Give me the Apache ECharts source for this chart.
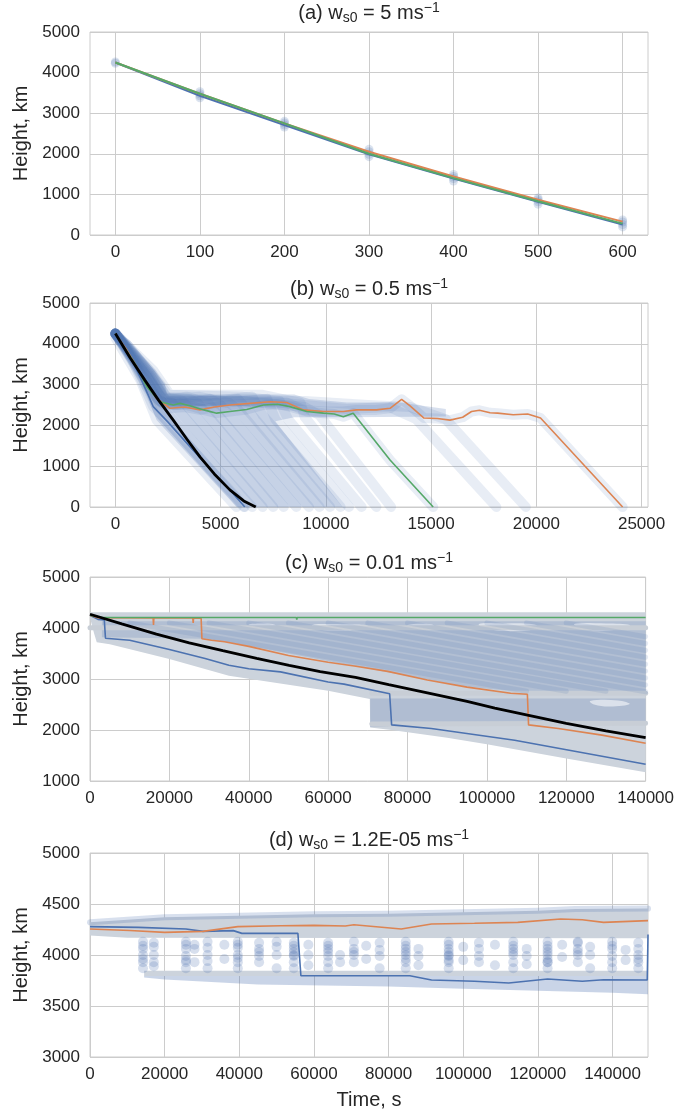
<!DOCTYPE html>
<html>
<head>
<meta charset="utf-8">
<script src="https://cdn.jsdelivr.net/npm/echarts@6/dist/echarts.min.js"></script>
<style>
html, body { margin: 0; padding: 0; background: #fff; }
#chart { width: 677px; height: 1114px; }
</style>
</head>
<body>
<div id="chart"></div>
<script>
// ---- panel (a) ----
var aTicksX = [0, 100, 200, 300, 400, 500, 600];
var aTimes = [0, 100, 200, 300, 400, 500, 600];
var aBlue = [4250, 3430, 2710, 1990, 1390, 820, 260];
var aOrange = [4250, 3480, 2750, 2050, 1440, 870, 330];
var aGreen = [4250, 3480, 2750, 2000, 1400, 830, 280];
var aDots = [[0,4230],[0,4260],[100,3380],[100,3430],[100,3480],[100,3530],
  [200,2660],[200,2710],[200,2760],[200,2800],[300,1930],[300,1990],[300,2050],[300,2110],
  [400,1330],[400,1390],[400,1440],[400,1490],[500,760],[500,820],[500,870],[500,910],
  [600,200],[600,260],[600,320],[600,370]];

// ---- panel (b) ----
var bTicksX = [0, 5000, 10000, 15000, 20000, 25000];
var bBlack = [[0,4250],[700,3660],[1400,3110],[2050,2620],[2750,2130],[3400,1660],[4020,1230],
  [4700,810],[5440,420],[6100,150],[6670,0]];
var bBlue = [[0,4250],[400,3950],[800,3600],[1300,3050],[1800,2460],[2500,2080],[3540,1480],[4500,930],[5500,380],[6150,0]];
var bGreen = [[0,4250],[500,3850],[1000,3450],[1490,2950],[2120,2580],[2750,2500],[3070,2540],[3540,2480],
  [4200,2380],[4810,2300],[5440,2340],[6240,2390],[7030,2500],[7700,2520],[8290,2460],[9090,2340],
  [9880,2300],[10400,2280],[10830,2210],[11300,2300],[13050,1150],[15100,0]];
var bOrange = [[0,4250],[500,3880],[1000,3450],[1500,3000],[1960,2660],[2590,2420],[3300,2450],[4020,2380],
  [4700,2450],[5440,2500],[6400,2540],[7350,2580],[8140,2560],[8930,2380],[9880,2340],[10830,2340],
  [11460,2380],[12400,2380],[13050,2420],[13600,2640],[14000,2480],[14660,2180],[15300,2170],[15900,2130],
  [16500,2200],[16920,2340],[17300,2370],[17800,2310],[18160,2300],[18900,2260],[19590,2280],[20200,2180],[24100,0]];
var bCloudRing = [[0,4300],[700,4080],[2350,3030],[2450,2760],[8500,2760],[9200,2650],[11000,2560],
  [13500,2560],[15700,2400],[15700,2220],[11000,2200],[8500,2200],[7600,2100],[10800,0],[5760,0],
  [1960,2130],[1200,3100],[0,4150]];
var bTracks = [
  [[0,4150],[1200,3100],[1960,2130],[5760,0]],
  [[0,4250],[1300,3150],[2100,2300],[6100,0]],
  [[0,4250],[1400,3200],[2200,2450],[6500,0]],
  [[0,4250],[1500,3250],[2300,2600],[2700,2550],[7000,0]],
  [[0,4250],[1600,3300],[2300,2700],[3200,2600],[7500,0]],
  [[0,4250],[1700,3300],[2400,2700],[3500,2650],[3900,2550],[8000,0]],
  [[0,4250],[1500,3200],[2200,2650],[3400,2700],[4400,2550],[8600,0]],
  [[0,4250],[1400,3150],[2100,2600],[3000,2500],[4500,2650],[5000,2500],[9200,0]],
  [[0,4250],[1600,3250],[2300,2650],[4000,2700],[5400,2550],[5800,2400],[9700,0]],
  [[0,4250],[1700,3250],[2400,2600],[4200,2500],[5800,2650],[6400,2300],[10200,0]],
  [[0,4250],[1500,3200],[2200,2550],[4500,2600],[6500,2700],[7000,2250],[10700,0]],
  [[0,4250],[1600,3200],[2300,2500],[5000,2550],[7200,2650],[7600,2150],[11100,0]],
  [[0,4250],[1700,3300],[2500,2750],[6000,2700],[7800,2600],[8200,2150],[11700,0]],
  [[0,4250],[1800,3350],[2600,2750],[7000,2750],[8800,2550],[9000,2200],[12400,0]],
  [[0,4250],[1600,3250],[2400,2600],[6000,2600],[9000,2450],[9700,2250],[13100,0]],
  [[0,4250],[1700,3250],[2500,2650],[8000,2550],[11000,2400],[13000,2450],[14300,2150],[18100,0]],
  [[0,4250],[1500,3200],[2300,2600],[9000,2600],[12000,2500],[14000,2450],[15700,2150],[19500,0]]
];

// ---- panel (c) ----
var cTicksX = [0, 20000, 40000, 60000, 80000, 100000, 120000, 140000];
var cBlack = [[0,4270],[8000,4080],[16730,3880],[25000,3710],[33450,3555],[42000,3405],[50180,3265],
  [58000,3145],[66900,3030],[75260,2890],[85000,2730],[95000,2560],[102000,2430],[110250,2290],
  [120000,2130],[130000,1985],[140000,1850]];
var cBlue = [[0,4250],[2000,4170],[3600,4160],[3900,3800],[10000,3760],[20000,3580],[29000,3400],
  [35000,3270],[40000,3200],[48000,3140],[60000,2940],[64000,2900],[75500,2710],[76000,2100],
  [86000,2030],[107000,1800],[140000,1330]];
var cOrange = [[0,4250],[2000,4200],[15900,4195],[16000,4060],[16100,4195],[25900,4195],[26000,4100],
  [26100,4195],[28000,4190],[28200,3790],[30600,3760],[33900,3730],[40000,3640],[50000,3460],
  [60000,3330],[67000,3250],[75000,3150],[85000,2980],[95000,2840],[106000,2720],[110200,2700],
  [110500,2100],[118000,2030],[129000,1900],[140000,1740]];
var cGreen = [[0,4250],[3000,4205],[4900,4205],[5000,4170],[5100,4205],[24200,4205],[24300,4170],
  [24400,4205],[52000,4205],[52100,4165],[52200,4205],[62000,4205],[62100,4170],[62200,4205],
  [68000,4205],[68100,4170],[68200,4205],[140000,4205]];
var cEnvTop = [[0,4310],[140000,4310]];
var cEnvBottom = [[0,4200],[1000,3900],[1700,3720],[5000,3680],[20000,3390],[35000,3065],[60000,2772],
  [70500,2609],[70600,2050],[76000,2000],[90000,1850],[100000,1720],[120000,1440],[140000,1170]];
var cDotTop = [[3000,4130],[140000,4130]];
var cDotBottom = [[3000,3820],[28000,3790],[35000,3720],[50000,3500],[65000,3280],[80000,3060],
  [95000,2850],[107000,2760],[140000,2760]];
var cLowDotTop = [[70600,2620],[140000,2620]];
var cLowDotBottom = [[70600,2060],[76000,2080],[140000,2150]];
var cGaps = [
  [[56000,4060],[60000,4080],[66000,4070],[70000,4050],[68000,3980],[62000,3950],[57000,3980]],
  [[98000,4080],[104000,4090],[112000,4070],[113000,4000],[108000,3940],[100000,3980]],
  [[122000,4080],[130000,4090],[136000,4060],[134000,3980],[126000,3960]],
  [[40000,4070],[46000,4080],[47000,4030],[43000,4010]],
  [[80000,4060],[86000,4075],[87000,4010],[82000,3995]],
  [[126000,2570],[133000,2580],[136000,2510],[131000,2460],[127000,2500]]
];
var cStreaks = [
  [[10000,4100],[110000,2760]], [[20000,4100],[120000,2760]], [[30000,4100],[130000,2760]],
  [[40000,4100],[140000,2750]], [[50000,4100],[140000,2885]], [[60000,4100],[140000,3020]],
  [[70000,4100],[140000,3155]], [[80000,4100],[140000,3290]], [[90000,4100],[140000,3425]],
  [[100000,4100],[140000,3560]], [[110000,4100],[140000,3695]], [[120000,4100],[140000,3830]]
];
var cGrayLines = [ [[0,4005],[140000,4005]], [[71000,2720],[140000,2720]], [[71000,2120],[140000,2130]] ];

// ---- panel (d) ----
var dTicksX = [0, 20000, 40000, 60000, 80000, 100000, 120000, 140000];
var dOrange = [[0,4255],[10700,4240],[20000,4222],[30300,4232],[39600,4278],[51100,4287],[60000,4290],
  [68400,4285],[70700,4297],[83400,4255],[91500,4304],[103000,4311],[114600,4320],[126100,4353],
  [131900,4346],[137600,4320],[149500,4337]];
var dBlue = [[0,4278],[13000,4271],[25700,4255],[30300,4232],[38400,4239],[40700,4212],[55700,4212],
  [56500,3797],[68400,3797],[85700,3797],[91500,3755],[103000,3742],[112200,3725],[122600,3765],
  [131900,3742],[137600,3758],[149300,3755],[149500,4200]];
var dUpperTop = [[0,4320],[20000,4370],[40000,4385],[60000,4400],[80000,4405],[100000,4420],
  [120000,4435],[130000,4450],[149500,4455]];
var dUpperBottom = [[0,4190],[10000,4170],[149500,4165]];
var dLowerTop = [[14500,3845],[149500,3845]];
var dLowerMid = [[14500,3795],[149500,3795]];
var dLowerBottom = [[14500,3780],[20000,3760],[45000,3710],[80000,3690],[100000,3670],[120000,3650],
  [140000,3630],[149500,3615]];
var dStreaks = [
  [14200,[4130,4090,4060,4000,3960,3930,3870]], [17100,[4120,4080,4000,3930,3890]],
  [25700,[4130,4100,4060,3990,3950,3930,3870]], [28000,[4100,4060,3930]],
  [31500,[4130,4070,4000,3940,3870]], [36000,[4100,3960]],
  [39600,[4130,4100,4070,4000,3970,3930,3870]], [45300,[4120,4060,4030,3990,3930]],
  [50000,[4130,4080,4000,3870]], [54600,[4120,4090,4060,4030,4000,3990,3930,3870]],
  [58500,[4100,4000,3900]], [63800,[4120,4090,4060,4030,3990,3930,3870]], [67000,[4000,3930]],
  [70700,[4130,4060,4030,4000,3930]], [74000,[4090,3960]], [77600,[4120,4050,3990,3870]],
  [84600,[4130,4090,4060,4030,4000,3960,3930,3870]], [88000,[4060,3990,3900]],
  [96100,[4130,4100,4060,4030,4000,3990,3950,3930,3870]], [100000,[4080,3950]],
  [104200,[4120,4060,3990,3930]], [108500,[4100,3900]],
  [113400,[4130,4090,4060,4030,4000,3930,3870]], [117000,[4060,3990,3910]],
  [122600,[4130,4090,4060,4030,4000,3960,3930,3930,3870]], [126500,[4100,3980]],
  [130700,[4130,4120,4060,4030,4000,3930]], [134000,[4080,4000,3870]],
  [139900,[4130,4090,4060,3990,3930,3870]], [143500,[4050,3950]], [146900,[4120,4060,4000,3960,3930,3870]]
];

var FONT = '"Liberation Sans", Arial, sans-serif';
var TXT = '#262626';
var C_BLUE = '#4c72b0', C_ORANGE = '#dd8452', C_GREEN = '#55a868';
var GRAY = '#ccd3dc';
var HALO = 'rgba(76,114,176,0.13)';

var tops = [32, 303, 577, 853];
var hts = [203, 204, 204, 204];

var chart = echarts.init(document.getElementById('chart'));

function plain(v) { return String(v); }
function xAxisFor(i, min, max, ticks, name) {
  return {
    gridIndex: i, type: 'value', min: min, max: max,
    name: name || '', nameLocation: 'middle', nameGap: 33,
    nameTextStyle: { fontSize: 20, color: TXT, fontFamily: FONT },
    axisLine: { show: false },
    axisTick: { show: false, customValues: ticks },
    axisLabel: { customValues: ticks, color: TXT, fontSize: 17, fontFamily: FONT, margin: 9, formatter: plain },
    splitLine: { show: true, lineStyle: { color: '#cccccc', width: 1 } }
  };
}
function yAxisFor(i, min, max, interval) {
  return {
    gridIndex: i, type: 'value', min: min, max: max, interval: interval,
    name: 'Height, km', nameLocation: 'middle', nameGap: 44, nameRotate: 90,
    nameTextStyle: { fontSize: 20, color: TXT, fontFamily: FONT },
    axisLine: { show: false }, axisTick: { show: false },
    axisLabel: { color: TXT, fontSize: 17, fontFamily: FONT, margin: 10, formatter: plain },
    splitLine: { show: true, lineStyle: { color: '#cccccc', width: 1 } }
  };
}
function line(i, data, color, width, z) {
  return { type: 'line', xAxisIndex: i, yAxisIndex: i, data: data, showSymbol: false, silent: true,
    lineStyle: { color: color, width: width }, z: z, animation: false };
}
function tracks(i, list, color, width, z) {
  return { type: 'lines', coordinateSystem: 'cartesian2d', xAxisIndex: i, yAxisIndex: i, polyline: true,
    silent: true, z: z, animation: false,
    data: list.map(function (c) { return { coords: c }; }),
    lineStyle: { color: color, width: width, opacity: 1, cap: 'round', join: 'round' } };
}
function bands(i, polys, z) {
  return { type: 'custom', xAxisIndex: i, yAxisIndex: i, silent: true, clip: true, z: z, animation: false,
    data: polys.map(function (p) { return (p.ring || p.top)[0]; }),
    renderItem: function (params, api) {
      var p = polys[params.dataIndex];
      var ring = p.ring || p.top.concat(p.bottom.slice().reverse());
      var pts = ring.map(function (v) { return api.coord(v); });
      return { type: 'polygon', shape: { points: pts, smooth: p.smooth || 0 }, style: { fill: p.fill } };
    } };
}
function pairs(xs, ys) { return xs.map(function (x, k) { return [x, ys[k]]; }); }

var dDots = [];
dStreaks.forEach(function (s) { s[1].forEach(function (h) { dDots.push([s[0], h]); }); });

var titles = [['(a) w', ' = 5 ms'], ['(b) w', ' = 0.5 ms'], ['(c) w', ' = 0.01 ms'], ['(d) w', ' = 1.2E-05 ms']];
var titleY = [13, 289, 563, 840];

var grids = tops.map(function (t, k) {
  return { left: 90, width: 558, top: t, height: hts[k], show: true, borderColor: '#cccccc', borderWidth: 1,
    backgroundColor: 'transparent' };
});

var series = [];
// (a)
series.push({ type: 'scatter', xAxisIndex: 0, yAxisIndex: 0, data: aDots, symbolSize: 9, silent: true,
  itemStyle: { color: 'rgba(76,114,176,0.25)' }, z: 2, animation: false });
series.push(line(0, pairs(aTimes, aBlue), C_BLUE, 2, 4));
series.push(line(0, pairs(aTimes, aOrange), C_ORANGE, 2, 5));
series.push(line(0, pairs(aTimes, aGreen), C_GREEN, 2, 6));
// (b)
series.push(bands(1, [{ ring: bCloudRing, fill: 'rgba(76,114,176,0.22)' }], 1));
series.push(tracks(1, bTracks.concat([bGreen, bOrange, bBlue]), HALO, 10, 2));
series.push(line(1, bBlue, C_BLUE, 1.6, 4));
series.push(line(1, bOrange, C_ORANGE, 1.6, 5));
series.push(line(1, bGreen, C_GREEN, 1.6, 6));
series.push(line(1, bBlack, '#000000', 2.8, 7));
series.push({ type: 'scatter', xAxisIndex: 1, yAxisIndex: 1, data: [[0, 4260]], symbolSize: 9, silent: true,
  itemStyle: { color: 'rgba(76,114,176,0.7)' }, z: 3, animation: false });
// (c)
series.push(bands(2, [
  { top: cEnvTop, bottom: cEnvBottom, fill: GRAY },
  { top: cDotTop, bottom: cDotBottom, fill: 'rgba(76,114,176,0.2)' },
  { top: cLowDotTop, bottom: cLowDotBottom, fill: 'rgba(76,114,176,0.22)' }
], 1));
series.push(bands(2, cGaps.map(function (g) { return { ring: g, fill: 'rgba(255,255,255,0.55)', smooth: 0.4 }; }), 2));
series.push(tracks(2, cGrayLines, 'rgba(200,206,214,1)', 5, 2));
series.push(tracks(2, cStreaks, 'rgba(76,114,176,0.14)', 5, 3));
series.push(line(2, cBlue, C_BLUE, 1.6, 4));
series.push(line(2, cOrange, C_ORANGE, 1.6, 5));
series.push(line(2, cGreen, C_GREEN, 1.6, 6));
series.push(line(2, cBlack, '#000000', 2.8, 7));
// (d)
series.push(bands(3, [
  { top: dUpperTop, bottom: dUpperBottom, fill: GRAY },
  { top: dLowerTop, bottom: dLowerMid, fill: GRAY },
  { top: dLowerMid, bottom: dLowerBottom, fill: 'rgba(76,114,176,0.3)' }
], 1));
series.push(tracks(3, [dUpperTop], 'rgba(76,114,176,0.22)', 6, 2));
series.push({ type: 'scatter', xAxisIndex: 3, yAxisIndex: 3, data: dDots, symbolSize: 10, silent: true,
  itemStyle: { color: 'rgba(76,114,176,0.28)' }, z: 2, animation: false });
series.push(line(3, dBlue, C_BLUE, 1.6, 4));
series.push(line(3, dOrange, C_ORANGE, 1.6, 5));

var graphics = titles.map(function (tt, k) {
  return { type: 'text', x: 369, y: titleY[k], silent: true,
    style: { text: '{t|' + tt[0] + '}{s|s0}{t|' + tt[1] + '}{p|\u22121}', align: 'center', verticalAlign: 'middle',
      rich: {
        t: { fontSize: 20, fontFamily: FONT, fill: TXT, lineHeight: 24 },
        s: { fontSize: 14, fontFamily: FONT, fill: TXT, lineHeight: 14, verticalAlign: 'bottom' },
        p: { fontSize: 14, fontFamily: FONT, fill: TXT, lineHeight: 14, verticalAlign: 'top' }
      } } };
});

chart.setOption({
  animation: false,
  backgroundColor: '#ffffff',
  grid: grids,
  xAxis: [
    xAxisFor(0, -30, 630, aTicksX),
    xAxisFor(1, -1205, 25305, bTicksX),
    xAxisFor(2, 0, 140000, cTicksX),
    xAxisFor(3, 0, 149500, dTicksX, 'Time, s')
  ],
  yAxis: [
    yAxisFor(0, 0, 5000, 1000),
    yAxisFor(1, 0, 5000, 1000),
    yAxisFor(2, 1000, 5000, 1000),
    yAxisFor(3, 3000, 5000, 500)
  ],
  series: series,
  graphic: graphics
});
</script>
</body>
</html>
